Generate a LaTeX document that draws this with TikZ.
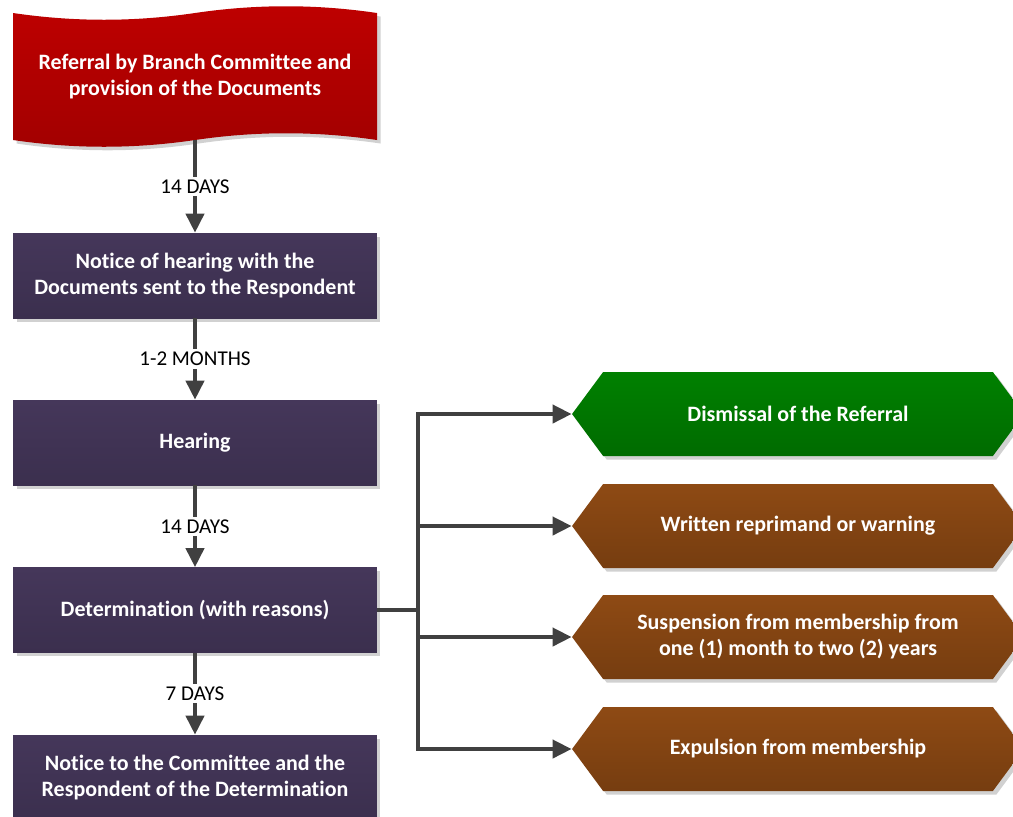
\documentclass[tikz,border=0pt]{standalone}
\usepackage{fontspec}
\setmainfont{Carlito}[Ligatures=NoCommon]
\usetikzlibrary{arrows.meta,shapes.symbols,shadows}

\definecolor{redtop}{HTML}{BE0000}
\definecolor{redbot}{HTML}{A20000}
\definecolor{plumtop}{HTML}{45375A}
\definecolor{plumbot}{HTML}{3B2F4E}
\definecolor{greentop}{HTML}{008000}
\definecolor{greenbot}{HTML}{006B00}
\definecolor{browntop}{HTML}{8E4A14}
\definecolor{brownbot}{HTML}{763D10}
\definecolor{linkgray}{HTML}{404040}

\begin{document}
\begin{tikzpicture}[x=0.02cm,y=-0.02cm,
  softshadow/.style={drop shadow={shadow xshift=2pt,shadow yshift=-2pt,fill=black!30,opacity=.6}},
  stagebox/.style={minimum width=7.28cm,minimum height=1.7cm,align=center,text=white,
    font=\bfseries\fontsize{12.5}{14.8}\selectfont,top color=plumtop,bottom color=plumbot,softshadow},
  outcome/.style={shape=signal,signal to=west and east,signal pointer angle=107,
    minimum width=9.04cm,minimum height=1.68cm,inner sep=0pt,align=center,text=white,
    font=\bfseries\fontsize{12.5}{14.8}\selectfont,softshadow},
  waittime/.style={fill=white,inner sep=1.5pt,font=\fontsize{12}{14}\selectfont},
  link/.style={draw=linkgray,line width=0.08cm},
  arrowlink/.style={link,-{Triangle[length=0.38cm,width=0.36cm]}}]
\useasboundingbox (0,0) rectangle (1013,816);

\path[softshadow,top color=redtop,bottom color=redbot]
  (13,13) .. controls (74,22) and (134,22) .. (195,13)
  .. controls (256,4) and (316,4) .. (377,13) -- (377,140)
  .. controls (316,131) and (256,131) .. (195,140)
  .. controls (134,149) and (74,149) .. (13,140) -- cycle;
\node[minimum height=2.54cm,align=center,text=white,font=\bfseries\fontsize{12.5}{14.8}\selectfont]
  (referral) at (195,76.5) {Referral by Branch Committee and\\provision of the Documents};

\node[stagebox] (notice) at (195,275.5) {Notice of hearing with the\\Documents sent to the Respondent};
\node[stagebox] (hearing) at (195,442.5) {Hearing};
\node[stagebox] (determination) at (195,610) {Determination (with reasons)};
\node[stagebox] (outcomenotice) at (195,777.5) {Notice to the Committee and the\\Respondent of the Determination};

\node[outcome,top color=greentop,bottom color=greenbot] (dismissal) at (798,414) {Dismissal of the Referral};
\node[outcome,top color=browntop,bottom color=brownbot] (reprimand) at (798,526) {Written reprimand or warning};
\node[outcome,top color=browntop,bottom color=brownbot] (suspension) at (798,637) {Suspension from membership from\\one (1) month to two (2) years};
\node[outcome,top color=browntop,bottom color=brownbot] (expulsion) at (798,749) {Expulsion from membership};

\draw[arrowlink] (referral.south) -- node[waittime] {14 DAYS} (notice.north);
\draw[arrowlink] (notice.south) -- node[waittime] {1-2 MONTHS} (hearing.north);
\draw[arrowlink] (hearing.south) -- node[waittime] {14 DAYS} (determination.north);
\draw[arrowlink] (determination.south) -- node[waittime] {7 DAYS} (outcomenotice.north);

\coordinate (fork) at (418,610);
\draw[arrowlink] (determination.east) -- (fork) |- (dismissal.west);
\draw[arrowlink] (determination.east) -- (fork) |- (reprimand.west);
\draw[arrowlink] (determination.east) -- (fork) |- (suspension.west);
\draw[arrowlink] (determination.east) -- (fork) |- (expulsion.west);
\end{tikzpicture}
\end{document}
